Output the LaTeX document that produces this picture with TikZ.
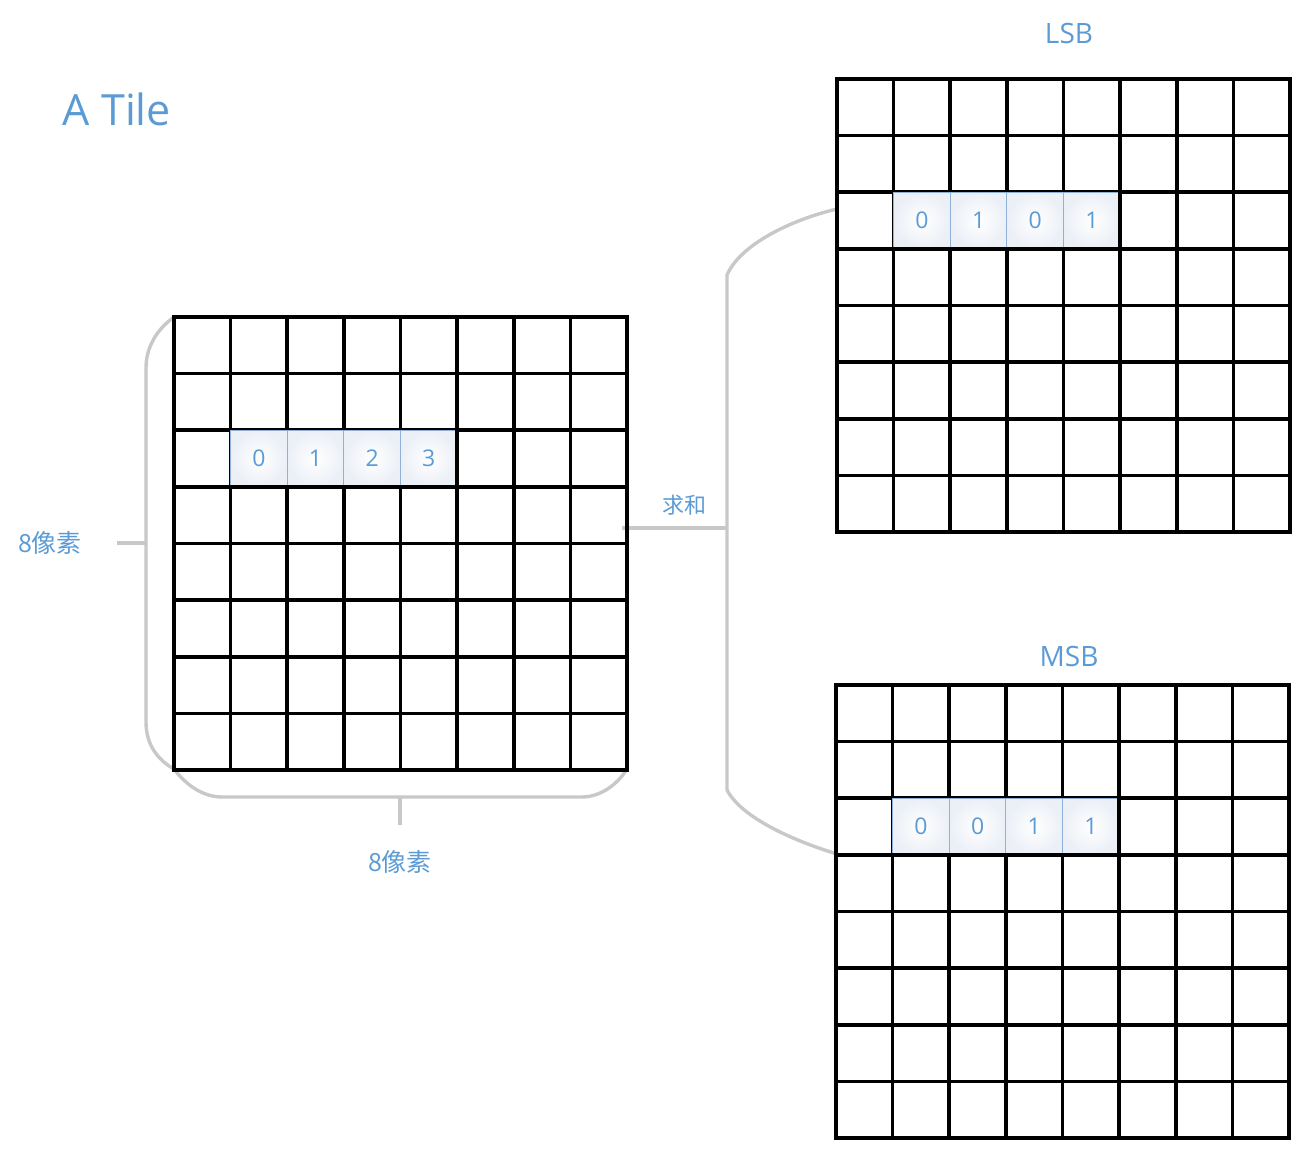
\documentclass[tikz,border=0pt]{standalone}
\usepackage{fontspec}
\setmainfont{Open Sans}
\newfontfamily\cjk{Noto Sans CJK SC}
\definecolor{tblue}{HTML}{5B9BD5}
\definecolor{bgray}{HTML}{C8C8C8}
\definecolor{cellline}{HTML}{8FB0D8}
\definecolor{cellfill}{HTML}{EBEFF6}
\newcommand\tilegrid[2]{%
  \foreach \i in {0,...,8} {
    \draw[gridline] ({#1+\i*56.625},#2) -- ({#1+\i*56.625},{#2+453});
    \draw[gridline] (#1,{#2+\i*56.625}) -- ({#1+453},{#2+\i*56.625});
  }}
\newcommand\hrow[7]{% x0 y0 prefix d0 d1 d2 d3
  \foreach \c/\d [count=\k from 0] in {1/#4,2/#5,3/#6,4/#7} {
    \node[hcell] (#3\k) at ({#1+(\c+0.5)*56.625},{#2+2.5*56.625}) {\d};
  }
  \draw[gridline] (#1,{#2+3*56.625}) -- ({#1+453},{#2+3*56.625});
  \draw[gridline] ({#1+5*56.625},{#2+2*56.625}) -- ({#1+5*56.625},{#2+3*56.625});
}
\begin{document}
\begin{tikzpicture}[x=1pt,y=-1pt,
  gridline/.style={line width=3.6pt, black, line cap=rect},
  brace/.style={line width=3.4pt, bgray},
  hcell/.style={draw=cellline, line width=0.9pt, inner color=white, outer color=cellfill,
    minimum width=56.6pt, minimum height=56.6pt, text=tblue,
    font=\fontsize{23}{23}\selectfont, inner sep=0pt},
  lbl/.style={text=tblue, inner sep=0pt},
]
\useasboundingbox (0,0) rectangle (1300,1151);

% braces (behind)
\coordinate (lbTop) at (174,317);
\coordinate (lbBot) at (174,769);
\coordinate (bbR) at (627,769);
\coordinate (lTick) at (117,543);
\coordinate (lTickB) at (146,543);
\coordinate (bTick) at (400,825);
\coordinate (bTickB) at (400,797);
\draw[brace] (lbTop) .. controls (156,330) and (146,348) .. (146,368) -- (146,722)
  .. controls (146,745) and (158,760) .. (lbBot);
\draw[brace] (lbBot) .. controls (186,785) and (203,797) .. (222,797) -- (582,797)
  .. controls (600,797) and (617,785) .. (bbR);
\draw[brace] (lTickB) -- (lTick);
\draw[brace] (bTickB) -- (bTick);

\coordinate (sumL) at (622,528);
\coordinate (sumR) at (727,528);
\coordinate (vTop) at (727,275);
\coordinate (vBot) at (727,790);
\coordinate (lsbIn) at (837,209);
\coordinate (msbIn) at (837,854);
\draw[brace] (sumL) -- (sumR);
\draw[brace] (lsbIn) .. controls (790,220) and (740,245) .. (vTop) -- (vBot)
  .. controls (740,815) and (785,838) .. (msbIn);

% grids
\tilegrid{174}{317}
\tilegrid{837}{79}
\tilegrid{836}{685}
\hrow{174}{317}{L}{0}{1}{2}{3}
\hrow{837}{79}{S}{0}{1}{0}{1}
\hrow{836}{685}{M}{0}{0}{1}{1}

% labels
\node[lbl, font=\fontsize{43}{43}\selectfont] (title) at (117,109) {A Tile};
\node[lbl, font=\fontsize{28}{28}\selectfont] (lsb) at (1069,33) {LSB};
\node[lbl, font=\fontsize{28}{28}\selectfont] (msb) at (1069,656) {MSB};
\node[lbl, font=\cjk\fontsize{22}{22}\selectfont] (sum) at (684,505) {求和};
\node[lbl, font=\cjk\fontsize{25}{25}\selectfont] (w8) at (50,543) {8像素};
\node[lbl, font=\cjk\fontsize{25}{25}\selectfont] (h8) at (400,862) {8像素};
\end{tikzpicture}
\end{document}
